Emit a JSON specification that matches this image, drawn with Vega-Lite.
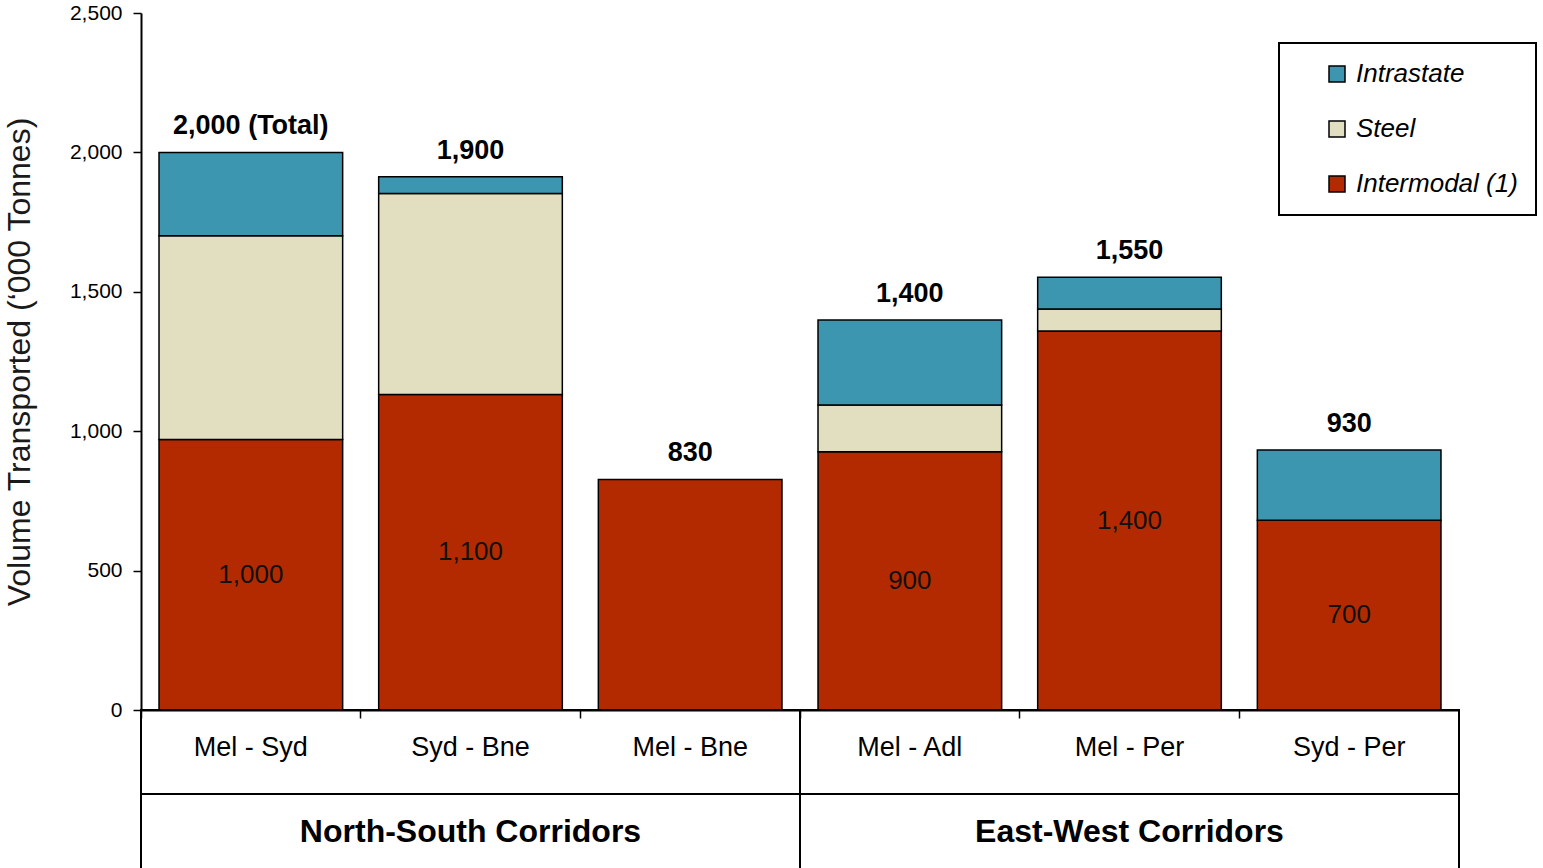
{
  "$schema": "https://vega.github.io/schema/vega-lite/v6.json",
  "padding": {"left": 3, "top": 2, "right": 0, "bottom": 0},
  "background": "white",
  "config": {"view": {"stroke": null}, "font": "Liberation Sans", "legend": {"strokeWidth": 2}},
  "bounds": "flush",
  "spacing": 0,
  "resolve": {"scale": {"x": "independent", "y": "independent"}},
  "datasets": {
    "freight": [
      {"route": "Mel - Syd", "type": "Intermodal", "value": 970, "label": "1,000"},
      {"route": "Mel - Syd", "type": "Steel", "value": 731},
      {"route": "Mel - Syd", "type": "Intrastate", "value": 299},
      {"route": "Syd - Bne", "type": "Intermodal", "value": 1132, "label": "1,100"},
      {"route": "Syd - Bne", "type": "Steel", "value": 721},
      {"route": "Syd - Bne", "type": "Intrastate", "value": 60},
      {"route": "Mel - Bne", "type": "Intermodal", "value": 827},
      {"route": "Mel - Adl", "type": "Intermodal", "value": 926, "label": "900"},
      {"route": "Mel - Adl", "type": "Steel", "value": 168},
      {"route": "Mel - Adl", "type": "Intrastate", "value": 305},
      {"route": "Mel - Per", "type": "Intermodal", "value": 1359, "label": "1,400"},
      {"route": "Mel - Per", "type": "Steel", "value": 79},
      {"route": "Mel - Per", "type": "Intrastate", "value": 114},
      {"route": "Syd - Per", "type": "Intermodal", "value": 681, "label": "700"},
      {"route": "Syd - Per", "type": "Intrastate", "value": 252}
    ],
    "totals": [
      {"route": "Mel - Syd", "totalLabel": "2,000 (Total)"},
      {"route": "Syd - Bne", "totalLabel": "1,900"},
      {"route": "Mel - Bne", "totalLabel": "830"},
      {"route": "Mel - Adl", "totalLabel": "1,400"},
      {"route": "Mel - Per", "totalLabel": "1,550"},
      {"route": "Syd - Per", "totalLabel": "930"}
    ],
    "routes": [
      {"route": "Mel - Syd", "group": "North-South Corridors"},
      {"route": "Syd - Bne", "group": "North-South Corridors"},
      {"route": "Mel - Bne", "group": "North-South Corridors"},
      {"route": "Mel - Adl", "group": "East-West Corridors"},
      {"route": "Mel - Per", "group": "East-West Corridors"},
      {"route": "Syd - Per", "group": "East-West Corridors"}
    ]
  },
  "vconcat": [
    {
      "width": 1318,
      "height": 697,
      "data": {"name": "freight"},
      "layer": [
        {
          "transform": [{"calculate": "indexof(['Intermodal','Steel','Intrastate'], datum.type)", "as": "stackOrder"}],
          "mark": {"type": "bar", "stroke": "black", "strokeWidth": 1.5},
          "encoding": {
            "x": {"field": "route", "type": "nominal", "sort": null,
                  "scale": {"domain": ["Mel - Syd", "Syd - Bne", "Mel - Bne", "Mel - Adl", "Mel - Per", "Syd - Per"], "paddingInner": 0.164, "paddingOuter": 0.082},
                  "axis": null},
            "y": {"field": "value", "type": "quantitative", "stack": "zero",
                  "scale": {"domain": [0, 2500], "nice": false},
                  "axis": {"title": "Volume Transported (‘000 Tonnes)", "titleFontSize": 32, "titleFontWeight": "normal", "titleColor": "#1a1a1a",
                           "titlePadding": 33, "values": [0, 500, 1000, 1500, 2000, 2500], "format": ",d",
                           "labelFontSize": 21, "labelColor": "black", "labelPadding": 11,
                           "tickSize": 8, "tickColor": "black", "tickWidth": 1.5,
                           "domainColor": "black", "domainWidth": 2, "grid": false}},
            "color": {"field": "type", "type": "nominal",
                      "scale": {"domain": ["Intrastate", "Steel", "Intermodal"], "range": ["#3d96b0", "#e2dfc1", "#b42a00"]},
                      "legend": {"orient": "none", "legendX": 1138, "legendY": 30, "title": null, "direction": "vertical",
                                 "fillColor": "white", "strokeColor": "black", "padding": 18,
                                 "symbolType": "square", "symbolSize": 256, "symbolStrokeColor": "black", "symbolStrokeWidth": 1.5,
                                 "symbolOffset": 27, "labelFontSize": 26, "labelFontStyle": "italic", "labelColor": "black",
                                 "labelOffset": 6, "rowPadding": 29, "labelLimit": 300,
                                 "labelExpr": "datum.label == 'Intermodal' ? 'Intermodal (1)' : datum.label"}},
            "order": {"field": "stackOrder", "type": "quantitative"}
          }
        },
        {
          "transform": [
            {"filter": "isValid(datum.label)"},
            {"calculate": "datum.value / 2", "as": "labelAnchor"}
          ],
          "mark": {"type": "text", "fontSize": 26, "color": "#111111"},
          "encoding": {
            "x": {"field": "route", "type": "nominal", "sort": null},
            "y": {"field": "labelAnchor", "type": "quantitative"},
            "text": {"field": "label"}
          }
        },
        {
          "transform": [
            {"aggregate": [{"op": "sum", "field": "value", "as": "total"}], "groupby": ["route"]},
            {"lookup": "route", "from": {"data": {"name": "totals"}, "key": "route", "fields": ["totalLabel"]}}
          ],
          "mark": {"type": "text", "fontSize": 27, "fontWeight": "bold", "baseline": "alphabetic", "dy": -18, "color": "black"},
          "encoding": {
            "x": {"field": "route", "type": "nominal", "sort": null},
            "y": {"field": "total", "type": "quantitative"},
            "text": {"field": "totalLabel"}
          }
        }
      ]
    },
    {
      "hconcat": [
        {
          "width": 659,
          "height": 160,
          "view": {"stroke": "black", "strokeWidth": 2},
          "data": {"name": "routes"},
          "transform": [{"filter": "datum.group == 'North-South Corridors'"}],
          "layer": [
            {
              "mark": {"type": "text", "fontSize": 27, "color": "black"},
              "encoding": {
                "x": {"field": "route", "type": "nominal", "sort": null,
                      "scale": {"type": "band", "paddingInner": 0, "paddingOuter": 0},
                      "axis": {"orient": "top", "bandPosition": 0, "labels": false, "title": null,
                               "tickSize": -8, "tickColor": "black", "tickWidth": 1.5,
                               "domainColor": "black", "domainWidth": 2}},
                "y": {"datum": "Routes", "type": "nominal",
                      "scale": {"type": "band", "domain": ["Routes", "Corridor"], "paddingInner": 0.095, "paddingOuter": 0},
                      "axis": null},
                "text": {"field": "route"}
              }
            },
            {
              "transform": [{"aggregate": [{"op": "count", "as": "n"}], "groupby": ["group"]}],
              "mark": {"type": "text", "fontSize": 32, "fontWeight": "bold", "color": "black"},
              "encoding": {
                "y": {"datum": "Corridor", "type": "nominal"},
                "text": {"field": "group"}
              }
            },
            {
              "transform": [{"aggregate": [{"op": "count", "as": "n"}], "groupby": ["group"]}],
              "mark": {"type": "rule", "color": "black", "strokeWidth": 2},
              "encoding": {
                "y": {"datum": "Corridor", "type": "nominal", "bandPosition": 0}
              }
            }
          ]
        },
        {
          "width": 659,
          "height": 160,
          "view": {"stroke": "black", "strokeWidth": 2},
          "data": {"name": "routes"},
          "transform": [{"filter": "datum.group == 'East-West Corridors'"}],
          "layer": [
            {
              "mark": {"type": "text", "fontSize": 27, "color": "black"},
              "encoding": {
                "x": {"field": "route", "type": "nominal", "sort": null,
                      "scale": {"type": "band", "paddingInner": 0, "paddingOuter": 0},
                      "axis": {"orient": "top", "bandPosition": 0, "labels": false, "title": null,
                               "tickSize": -8, "tickColor": "black", "tickWidth": 1.5,
                               "domainColor": "black", "domainWidth": 2}},
                "y": {"datum": "Routes", "type": "nominal",
                      "scale": {"type": "band", "domain": ["Routes", "Corridor"], "paddingInner": 0.095, "paddingOuter": 0},
                      "axis": null},
                "text": {"field": "route"}
              }
            },
            {
              "transform": [{"aggregate": [{"op": "count", "as": "n"}], "groupby": ["group"]}],
              "mark": {"type": "text", "fontSize": 32, "fontWeight": "bold", "color": "black"},
              "encoding": {
                "y": {"datum": "Corridor", "type": "nominal"},
                "text": {"field": "group"}
              }
            },
            {
              "transform": [{"aggregate": [{"op": "count", "as": "n"}], "groupby": ["group"]}],
              "mark": {"type": "rule", "color": "black", "strokeWidth": 2},
              "encoding": {
                "y": {"datum": "Corridor", "type": "nominal", "bandPosition": 0}
              }
            }
          ]
        }
      ],
      "spacing": 0,
      "bounds": "flush",
      "resolve": {"scale": {"x": "independent"}}
    }
  ]
}
